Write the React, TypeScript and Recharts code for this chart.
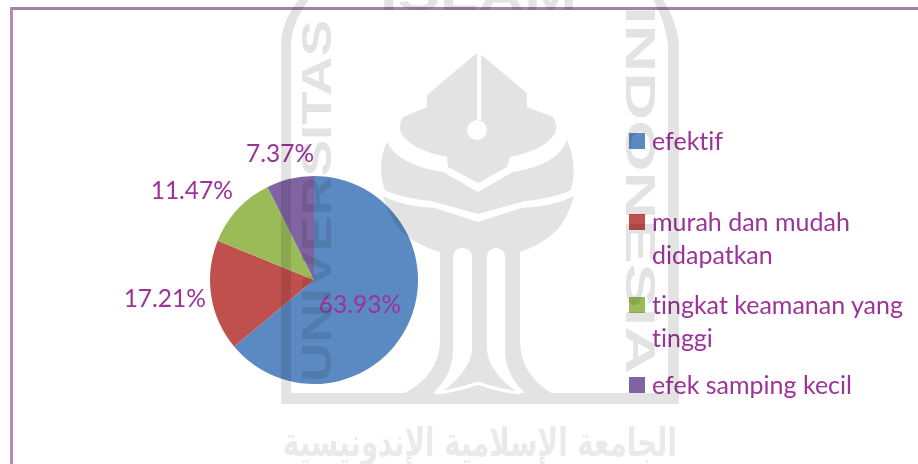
import { PieChart, Pie, Cell, Legend } from 'recharts'

const categories = ['efektif', 'murah dan mudah didapatkan', 'tingkat keamanan yang tinggi', 'efek samping kecil']
const values = [63.93, 17.21, 11.47, 7.37]
const colors = ['#5b8ac2', '#c0504d', '#9bbb59', '#8064a2']

const textColor = '#9c3398'
const fontFamily = 'Lato, "Noto Sans", sans-serif'

// where each percent label sits: share of the radius, and degrees off the slice middle
const labelReach = [0.495, 1.445, 1.46, 1.265]
const labelTurn = [-1.6, -2, 6.4, 1.7]
// gap above each legend row
const legendGaps = [0, 48, 17, 14]

const tableData = categories.map((name, i) => ({ name, value: values[i] }))

function renderLabel(props: any) {
  const { cx, cy, midAngle, outerRadius, index, value } = props
  const r = outerRadius * labelReach[index]
  const a = ((midAngle + labelTurn[index]) * Math.PI) / 180
  return (
    <text
      x={cx + r * Math.cos(a)}
      y={cy - r * Math.sin(a)}
      fill={textColor}
      fontSize={24.5}
      fontFamily={fontFamily}
      textAnchor="middle"
      dominantBaseline="central"
    >
      {value.toFixed(2)}%
    </text>
  )
}

function renderLegend() {
  return (
    <div
      style={{
        width: 285,
        fontFamily,
        fontSize: 25,
        lineHeight: '33px',
        color: textColor,
        fontVariantLigatures: 'none',
      }}
    >
      {categories.map((name, i) => (
        <div key={name} style={{ display: 'flex', marginTop: legendGaps[i] }}>
          <span
            style={{
              flex: 'none',
              width: 16,
              height: 16,
              marginTop: 9,
              marginRight: 7,
              background: colors[i],
            }}
          />
          <span>{name}</span>
        </div>
      ))}
    </div>
  )
}

// grey university emblem printed across the page
function Watermark() {
  const grey = '#e3e3e3'
  return (
    <svg
      width={918}
      height={464}
      style={{ position: 'absolute', left: 0, top: 0, mixBlendMode: 'multiply', pointerEvents: 'none' }}
    >
      <path
        d="M281,404 L281,40 Q284,15 303,-5 L313,-5 Q293,18 291,42 L291,393 L668,393 L668,45 Q665,18 650,-5 L660,-5 Q676,18 679,43 L679,404 Z"
        fill={grey}
      />
      <path
        d="M478,52 L527,93 L527,107 L553,117 Q558,125 555,133 Q545,150 510,157 L507,167 L478,183 L448,167 L447,157 Q411,150 401,133 Q398,125 403,117 L427,107 L427,95 Z"
        fill={grey}
      />
      <rect x={477} y={50} width={4} height={70} fill="#fff" />
      <circle cx={477} cy={130} r={10} fill="#fff" />
      <path
        d="M387,142 Q398,165 443,172 L478,192 L513,172 Q558,165 567,140 Q578,165 571,190 Q555,198 525,201 L478,214 L431,201 Q401,198 385,190 Q376,165 387,142 Z"
        fill={grey}
      />
      <path
        d="M383,196 Q405,207 435,208 L478,222 L521,208 Q552,207 574,196 Q568,218 557,230 Q542,245 520,252 L520,340 Q520,375 553,394 L403,394 Q440,375 440,340 L440,252 Q415,245 400,230 Q388,215 383,196 Z"
        fill={grey}
      />
      <path d="M453,258 Q453,248 462,248 Q472,248 472,258 L472,350 Q470,372 440,393 L433,393 Q453,375 453,350 Z" fill="#fff" />
      <path d="M505,258 Q505,248 496,248 Q487,248 487,258 L487,350 Q489,372 518,393 L525,393 Q505,375 505,350 Z" fill="#fff" />
      <path d="M436,393 Q460,390 478,383 Q496,390 520,393" fill="none" stroke="#fff" strokeWidth={3} />
      <g fill={grey} fontFamily="Liberation Sans, sans-serif" fontWeight={700} fontSize={42}>
        <text transform="translate(331,382) rotate(-90)" textLength={362} lengthAdjust="spacingAndGlyphs">
          UNIVERSITAS
        </text>
        <text transform="translate(626,6) rotate(90)" textLength={368} lengthAdjust="spacingAndGlyphs">
          INDONESIA
        </text>
        <text x={380} y={10} textLength={197} lengthAdjust="spacingAndGlyphs">
          ISLAM
        </text>
      </g>
      <text
        x={283}
        y={456}
        fill="#eaeaea"
        fontFamily="DejaVu Sans, sans-serif"
        fontWeight={700}
        fontSize={40}
        textLength={394}
        lengthAdjust="spacingAndGlyphs"
      >
        الجامعة الإسلامية الإندونيسية
      </text>
    </svg>
  )
}

export default function App() {
  return (
    <div
      style={{
        position: 'absolute',
        left: 0,
        top: 0,
        width: 918,
        height: 464,
        background: '#fff',
        overflow: 'hidden',
        filter: 'blur(0.5px)',
      }}
    >
      <div
        style={{
          position: 'absolute',
          left: 10,
          top: 7,
          right: -10,
          bottom: -10,
          borderTop: '3px solid #a87fa8',
          borderLeft: '3px solid #b78db7',
        }}
      />
      <div style={{ position: 'absolute', left: 0, top: 0 }}>
        <PieChart width={918} height={464} margin={{ top: 0, right: 0, bottom: 0, left: 0 }}>
          <Pie
            data={tableData}
            dataKey="value"
            nameKey="name"
            cx={314}
            cy={280}
            outerRadius={104}
            startAngle={90}
            endAngle={-270}
            stroke="none"
            label={renderLabel}
            labelLine={false}
            isAnimationActive={false}
          >
            {categories.map((name, i) => (
              <Cell key={name} fill={colors[i]} />
            ))}
          </Pie>
          <Legend content={renderLegend} wrapperStyle={{ left: 629, top: 124, width: 285, bottom: 'auto' }} />
        </PieChart>
      </div>
      <Watermark />
    </div>
  )
}
